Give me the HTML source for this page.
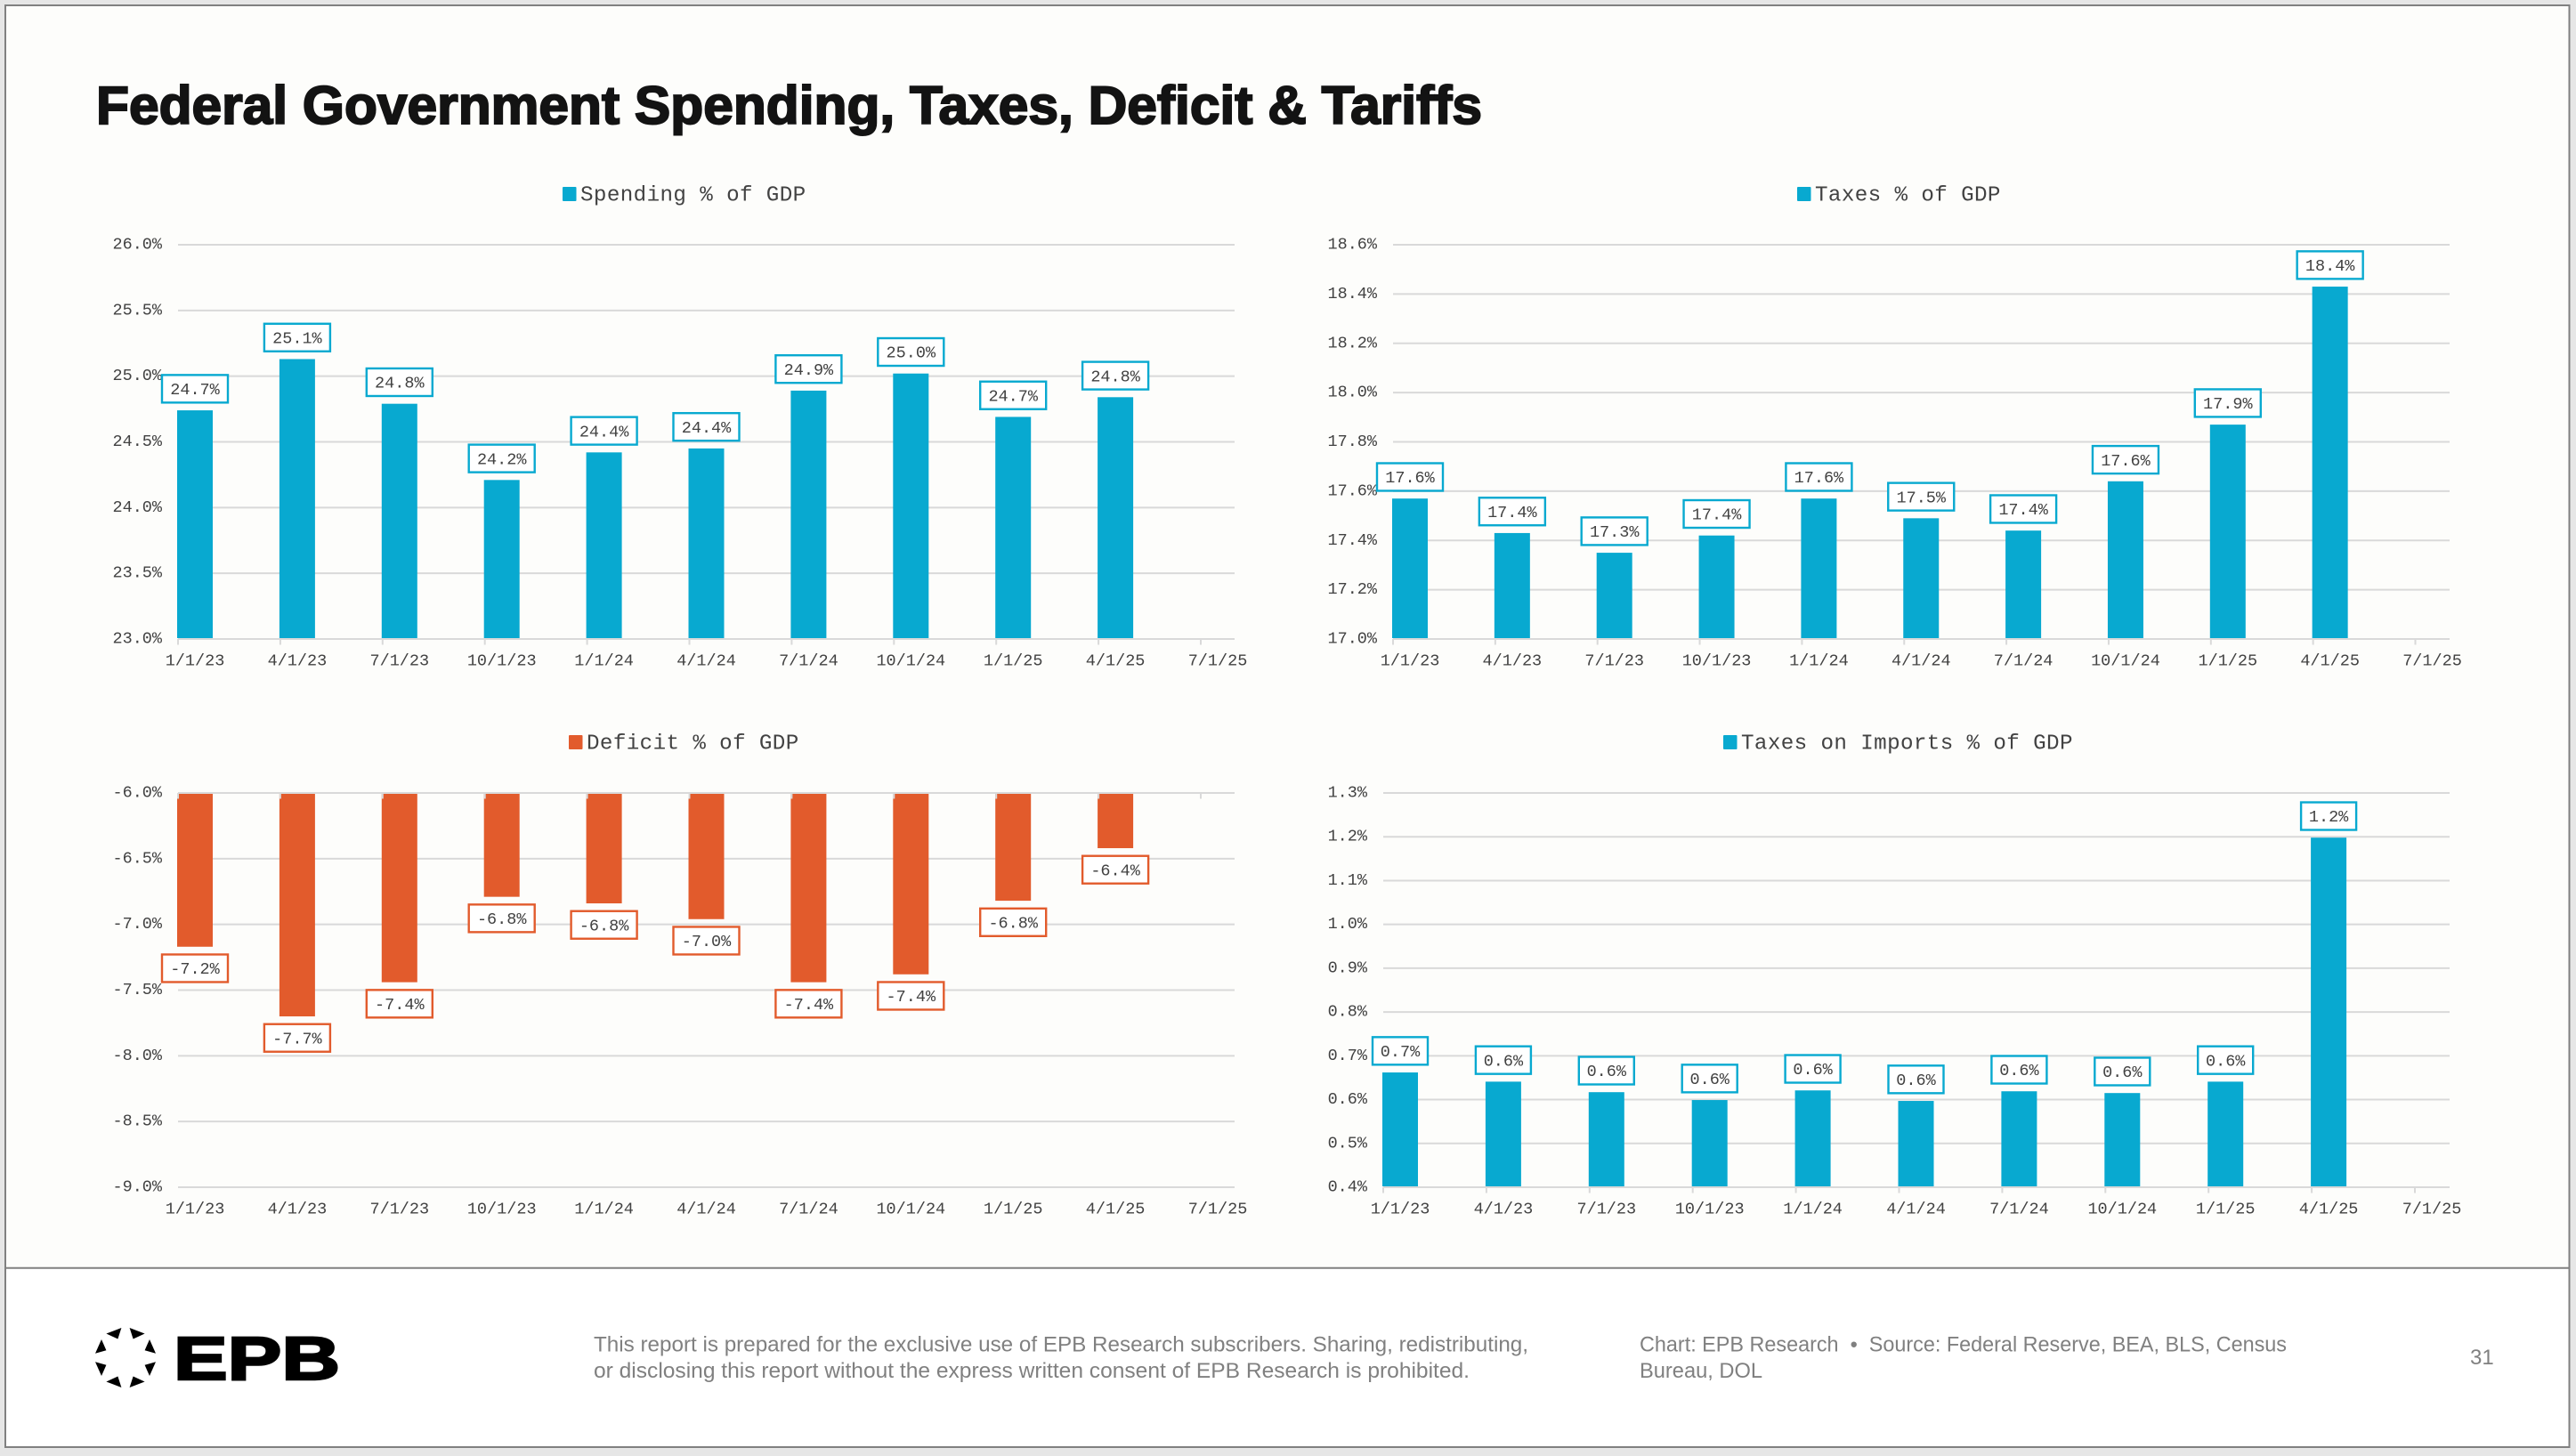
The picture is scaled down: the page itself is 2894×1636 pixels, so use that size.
<!DOCTYPE html>
<html lang="en">
<head>
<meta charset="utf-8">
<title>Federal Government Spending, Taxes, Deficit &amp; Tariffs</title>
<style>
html,body{margin:0;padding:0;background:#e6e6e6;}
body{width:2894px;height:1636px;overflow:hidden;}
svg{display:block;}
.mono{font-family:"Liberation Mono",monospace;fill:#424242;}
.sans{font-family:"Liberation Sans",sans-serif;}
</style>
</head>
<body>
<svg id="stage" xmlns="http://www.w3.org/2000/svg" width="2894" height="1636" viewBox="0 0 2894 1636">
  <rect x="0" y="0" width="2894" height="1636" fill="#e6e6e6"/>
  <rect x="6" y="6" width="2880" height="1419" fill="#fdfdfb"/>
  <rect x="6" y="1425" width="2880" height="200" fill="#ffffff"/>
  <rect x="6" y="6" width="2880.5" height="1620" fill="none" stroke="#808080" stroke-width="2"/>
  <line x1="6" y1="1424.7" x2="2886" y2="1424.7" stroke="#808080" stroke-width="2"/>
  <text class="sans" x="108" y="139" font-size="60" font-weight="700" fill="#131313" stroke="#131313" stroke-width="2" textLength="1557" lengthAdjust="spacingAndGlyphs">Federal Government Spending, Taxes, Deficit &amp; Tariffs</text>
  <g id="charts"></g>
  <g id="logo-mark" fill="#000000" transform="translate(141 1525.5)">
    <polygon points="4.6,-33.5 21.6,-27 8.6,-21"/>
    <polygon points="-4.6,-33.5 -21.6,-27 -8.6,-21"/>
    <polygon points="4.6,33.5 21.6,27 8.6,21"/>
    <polygon points="-4.6,33.5 -21.6,27 -8.6,21"/>
    <polygon points="27,-20.5 34,-4.8 21.6,-8.2"/>
    <polygon points="-27,-20.5 -34,-4.8 -21.6,-8.2"/>
    <polygon points="27,20.5 34,4.8 21.6,8.2"/>
    <polygon points="-27,20.5 -34,4.8 -21.6,8.2"/>
  </g>
  <text class="sans" x="195" y="1550" font-size="69" font-weight="700" fill="#000" stroke="#000" stroke-width="2.4" textLength="187" lengthAdjust="spacingAndGlyphs">EPB</text>
  <text class="sans" x="667" y="1518.5" font-size="24" fill="#808080" textLength="1050" lengthAdjust="spacingAndGlyphs">This report is prepared for the exclusive use of EPB Research subscribers. Sharing, redistributing,</text>
  <text class="sans" x="667" y="1548" font-size="24" fill="#808080" textLength="984" lengthAdjust="spacingAndGlyphs">or disclosing this report without the express written consent of EPB Research is prohibited.</text>
  <text class="sans" x="1842" y="1518.5" font-size="24" fill="#808080" textLength="727" lengthAdjust="spacingAndGlyphs" style="white-space:pre">Chart: EPB Research  •  Source: Federal Reserve, BEA, BLS, Census</text>
  <text class="sans" x="1842" y="1548" font-size="24" fill="#808080" textLength="138" lengthAdjust="spacingAndGlyphs">Bureau, DOL</text>
  <text class="sans" x="2775" y="1533" font-size="24" fill="#808080">31</text>
</svg>
<script>
const categories = ['1/1/23','4/1/23','7/1/23','10/1/23','1/1/24','4/1/24','7/1/24','10/1/24','1/1/25','4/1/25','7/1/25'];

const spendingValues = [24.74,25.13,24.79,24.21,24.42,24.45,24.89,25.02,24.69,24.84];
const taxesValues = [17.57,17.43,17.35,17.42,17.57,17.49,17.44,17.64,17.87,18.43];
const deficitValues = [-7.17,-7.70,-7.44,-6.79,-6.84,-6.96,-7.44,-7.38,-6.82,-6.42];
const importsValues = [0.662,0.641,0.617,0.599,0.621,0.597,0.619,0.615,0.641,1.198];

const spendingTicks = [23.0,23.5,24.0,24.5,25.0,25.5,26.0];
const taxesTicks = [17.0,17.2,17.4,17.6,17.8,18.0,18.2,18.4,18.6];
const deficitTicks = [-9.0,-8.5,-8.0,-7.5,-7.0,-6.5,-6.0];
const importsTicks = [0.4,0.5,0.6,0.7,0.8,0.9,1.0,1.1,1.2,1.3];

const NS = 'http://www.w3.org/2000/svg';
const BLUE = '#08a9d0';
const ORANGE = '#e25b2c';
const GRID = '#d9d9d9';

function make(tag, parent) {
  const el = document.createElementNS(NS, tag);
  parent.appendChild(el);
  return el;
}
function setAll(el, attrs) {
  for (const k in attrs) el.setAttribute(k, attrs[k]);
}
function printed(v) {
  return (Math.round((v + (v < 0 ? 0.0001 : -0.0001)) * 10) / 10).toFixed(1) + '%';
}

function drawPanel(p) {
  const root = document.getElementById('charts');
  const g = make('g', root);
  
  

  const tickMin = p.ticks[0];
  const tickMax = p.ticks[p.ticks.length - 1];
  const yScale = v => p.bottom - (v - tickMin) / (tickMax - tickMin) * (p.bottom - p.top);
  const xScale = i => p.x0 + p.pitch * i;

  // legend
  const sw = make('rect', g);
  
  
  setAll(sw, {x: p.swatchX, y: p.legendY - 16, width: 15.5, height: 16, rx: 1, fill: p.color});
  const lt = make('text', g);
  
  
  setAll(lt, {x: p.swatchX + 20, y: p.legendY - 0.5, 'font-size': 24.2, 'letter-spacing': 0.4, class: 'mono'});
  lt.textContent = p.legend;

  // gridlines and y tick labels
  p.ticks.forEach(t => {
    const y = yScale(t);
    const gl = make('line', g);
    
    
    setAll(gl, {x1: p.x0, x2: p.x1, y1: y, y2: y, stroke: GRID, 'stroke-width': 2});
    const tl = make('text', g);
    
    
    setAll(tl, {x: p.x0 - 18, y: y + 4.5, 'text-anchor': 'end', 'font-size': 18.5, class: 'mono'});
    tl.textContent = t.toFixed(1) + '%';
  });

  // bars
  const base = p.hanging ? tickMax : tickMin;
  const baseY = yScale(base) + (p.hanging ? 1 : -1);
  p.values.forEach((v, i) => {
    const vy = yScale(v);
    const bar = make('rect', g);
    
    
    setAll(bar, {
      x: xScale(i) - 1,
      y: Math.min(vy, baseY),
      width: 40,
      height: Math.abs(baseY - vy),
      fill: p.color
    });
  });

  // axis ticks and category labels
  categories.forEach((c, i) => {
    const x = xScale(i);
    const tk = make('line', g);
    
    
    const ty = yScale(base);
    setAll(tk, {x1: x, x2: x, y1: ty, y2: ty + 6.5, stroke: GRID, 'stroke-width': 2});
    const cl = make('text', g);
    
    
    setAll(cl, {x: x + 19, y: p.bottom + 29.5, 'text-anchor': 'middle', 'font-size': 18.5, class: 'mono'});
    cl.textContent = c;
  });

  // data labels
  p.values.forEach((v, i) => {
    const txt = printed(v);
    const w = 14 + 12 * txt.length;
    const h = 31;
    const cx = xScale(i) + 19;
    const vy = yScale(v);
    const boxY = p.hanging ? vy + 8.7 : vy - 8.7 - h;
    const box = make('rect', g);
    
    
    setAll(box, {x: cx - w / 2, y: boxY, width: w, height: h, fill: '#ffffff', stroke: p.color, 'stroke-width': 2.4});
    const lb = make('text', g);
    
    
    setAll(lb, {x: cx, y: boxY + h / 2 + 6.2, 'text-anchor': 'middle', 'font-size': 18.5, class: 'mono'});
    lb.textContent = txt;
  });
}

drawPanel({name:'spending', legend:'Spending % of GDP', values:spendingValues, ticks:spendingTicks, color:BLUE,
  x0:200, x1:1387, pitch:114.9, top:275, bottom:718, swatchX:632, legendY:226, hanging:false});
drawPanel({name:'taxes', legend:'Taxes % of GDP', values:taxesValues, ticks:taxesTicks, color:BLUE,
  x0:1565, x1:2752, pitch:114.85, top:275, bottom:718, swatchX:2019, legendY:226, hanging:false});
drawPanel({name:'deficit', legend:'Deficit % of GDP', values:deficitValues, ticks:deficitTicks, color:ORANGE,
  x0:200, x1:1387, pitch:114.9, top:891, bottom:1334, swatchX:639, legendY:842, hanging:true});
drawPanel({name:'imports', legend:'Taxes on Imports % of GDP', values:importsValues, ticks:importsTicks, color:BLUE,
  x0:1554, x1:2752, pitch:115.9, top:891, bottom:1334, swatchX:1936, legendY:842, hanging:false});
</script>
</body>
</html>
